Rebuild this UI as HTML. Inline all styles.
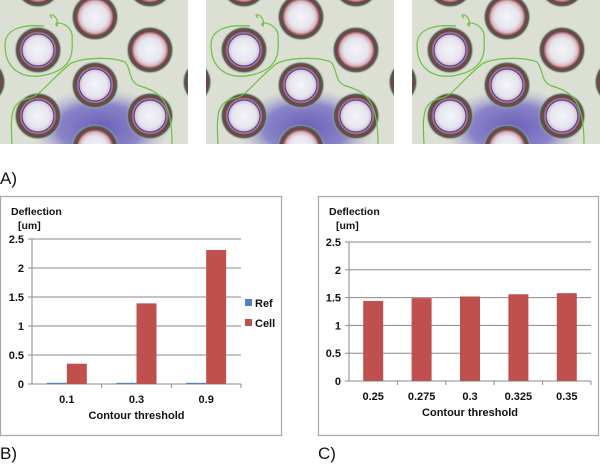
<!DOCTYPE html>
<html><head><meta charset="utf-8">
<style>
html,body{margin:0;padding:0;background:#fff;}
body{width:600px;height:465px;overflow:hidden;font-family:"Liberation Sans",sans-serif;}
</style></head>
<body>
<svg width="600" height="465" viewBox="0 0 600 465" xmlns="http://www.w3.org/2000/svg">
<defs>
<radialGradient id="post" cx="0.5" cy="0.5" r="0.5">
<stop offset="0" stop-color="#f2f6fa"/>
<stop offset="0.5" stop-color="#e6e4ee"/>
<stop offset="0.66" stop-color="#d9b7c0"/>
<stop offset="0.78" stop-color="#7a3f42"/>
<stop offset="0.9" stop-color="#4d5d52"/>
<stop offset="1" stop-color="#dcdfd3" stop-opacity="0"/>
</radialGradient>
<radialGradient id="blob" cx="0.5" cy="0.5" r="0.5">
<stop offset="0" stop-color="#6a5fb8"/>
<stop offset="0.6" stop-color="#8a84c8"/>
<stop offset="1" stop-color="#b9b8da" stop-opacity="0"/>
</radialGradient>
<clipPath id="pc"><rect x="0" y="0" width="188" height="144"/></clipPath>
<g id="photo">
<g clip-path="url(#pc)">
<rect x="0" y="0" width="188" height="144" fill="#dcdfd3"/>
<ellipse cx="100" cy="128" rx="70" ry="40" fill="url(#blob)"/>
<circle cx="38" cy="50" r="24" fill="url(#post)"/>
<circle cx="95" cy="17" r="24" fill="url(#post)"/>
<circle cx="150" cy="50" r="24" fill="url(#post)"/>
<circle cx="95" cy="85" r="24" fill="url(#post)"/>
<circle cx="38" cy="116" r="24" fill="url(#post)"/>
<circle cx="150" cy="116" r="24" fill="url(#post)"/>
<circle cx="95" cy="148" r="24" fill="url(#post)"/>
<circle cx="-18" cy="82" r="24" fill="url(#post)"/>
<circle cx="206" cy="82" r="24" fill="url(#post)"/>
<circle cx="38" cy="-16" r="24" fill="url(#post)"/>
<circle cx="150" cy="-16" r="24" fill="url(#post)"/>
<circle cx="38" cy="50" r="16" fill="none" stroke="#3b45b0" stroke-width="1.2"/>
<circle cx="95" cy="85" r="16" fill="none" stroke="#3b45b0" stroke-width="1.2"/>
<circle cx="38" cy="116" r="16" fill="none" stroke="#3b45b0" stroke-width="1.2"/>
<circle cx="150" cy="116" r="16" fill="none" stroke="#3b45b0" stroke-width="1.2"/>
<path d="M52 18 C45 12 60 14 57 26 C50 20 75 22 72 40 C74 60 66 72 40 76 C20 78 5 68 5 45 C5 30 20 24 44 26" fill="none" stroke="#6cc040" stroke-width="1.2"/>
<path d="M12 144 C10 110 12 102 30 98 C40 96 50 80 70 64 C80 58 110 56 125 62 C132 70 128 82 140 86 C160 92 172 100 172 144" fill="none" stroke="#6cc040" stroke-width="1.2"/>
</g>
</g>
</defs>
<use href="#photo" x="0" y="0"/>
<use href="#photo" x="206" y="0"/>
<use href="#photo" x="412" y="0"/>
<text x="0" y="184" font-size="17" fill="#111">A)</text>
<text x="0" y="459" font-size="17" fill="#111">B)</text>
<text x="318" y="459" font-size="17" fill="#111">C)</text>
<g id="chartB"></g>
<g id="chartC"></g>
</svg>
<script>
const catsB = ["0.1","0.3","0.9"];
const refB = [0.02,0.02,0.02];
const cellB = [0.35,1.39,2.31];
const catsC = ["0.25","0.275","0.3","0.325","0.35"];
const cellC = [1.44,1.49,1.52,1.56,1.58];
const yTicks = [0,0.5,1,1.5,2,2.5];
const NS="http://www.w3.org/2000/svg";
function mk(p,t,a){const e=document.createElementNS(NS,t);for(const k in a)e.setAttribute(k,a[k]);p.appendChild(e);return e;}
function chart(g,box,x0,x1,yTop,yBot,cats,series,legend){
  const fr=mk(g,'rect',{x:box[0]+0.5,y:box[1]+0.5,width:box[2],height:box[3],fill:'#fff',stroke:'#a8a8a8','stroke-width':1.2});
  
  
  const ys=v=>yBot-(v/2.5)*(yBot-yTop);
  yTicks.forEach(v=>{
    if(v>0){const l=mk(g,'line',{x1:x0,x2:x1,y1:ys(v),y2:ys(v),stroke:'#8a8a8a','stroke-width':1});
    
    }
    const t=mk(g,'text',{x:x0-8,y:ys(v)+4,'text-anchor':'end','font-size':11,'font-weight':'bold',fill:'#111'});t.textContent=String(v);
    
    
    mk(g,'line',{x1:x0-4,x2:x0,y1:ys(v),y2:ys(v),stroke:'#8a8a8a'});
  });
  mk(g,'line',{x1:x0,x2:x0,y1:yTop,y2:yBot,stroke:'#8a8a8a'});
  mk(g,'line',{x1:x0,x2:x1,y1:yBot,y2:yBot,stroke:'#8a8a8a'});
  const bw=(x1-x0)/cats.length;
  cats.forEach((c,i)=>{
    mk(g,'line',{x1:x0+bw*(i+1),x2:x0+bw*(i+1),y1:yBot,y2:yBot+4,stroke:'#8a8a8a'});
    const t=mk(g,'text',{x:x0+bw*(i+0.5),y:yBot+19,'text-anchor':'middle','font-size':11,'font-weight':'bold',fill:'#111'});t.textContent=c;
    
    
    series.forEach((s,j)=>{
      const w=20, xc=x0+bw*(i+0.5)+(series.length===2?(j===0?-10:10):0);
      const r=mk(g,'rect',{x:xc-w/2,y:ys(s.v[i]),width:w,height:yBot-ys(s.v[i]),fill:s.c});
      
      
    });
  });
  const d=mk(g,'text',{x:box[0]+11,y:box[1]+19,'font-size':10.5,'font-weight':'bold',fill:'#111'});d.textContent='Deflection';
  
  
  const u=mk(g,'text',{x:box[0]+18,y:box[1]+33,'font-size':10.5,'font-weight':'bold',fill:'#111'});u.textContent='[um]';
  
  
  const xt=mk(g,'text',{x:(x0+x1)/2,y:yBot+35,'text-anchor':'middle','font-size':11,'font-weight':'bold',fill:'#111'});xt.textContent='Contour threshold';
  
  
  if(legend){series.forEach((s,j)=>{
    const lg=mk(g,'g',{});
    
    
    mk(lg,'rect',{x:245,y:299+j*20,width:7,height:7,fill:s.c});
    const t=mk(lg,'text',{x:255,y:307+j*20,'font-size':11,'font-weight':'bold',fill:'#111'});t.textContent=s.n;
  });}
}
chart(document.getElementById('chartB'),[0,196,281,239],32,241,239,384,catsB,
  [{n:'Ref',v:refB,c:'#4f81bd'},{n:'Cell',v:cellB,c:'#c0504d'}],true);
chart(document.getElementById('chartC'),[318,196,280,239],349,591,242,381,catsC,
  [{n:'Cell',v:cellC,c:'#c0504d'}],false);
</script>
</body></html>
